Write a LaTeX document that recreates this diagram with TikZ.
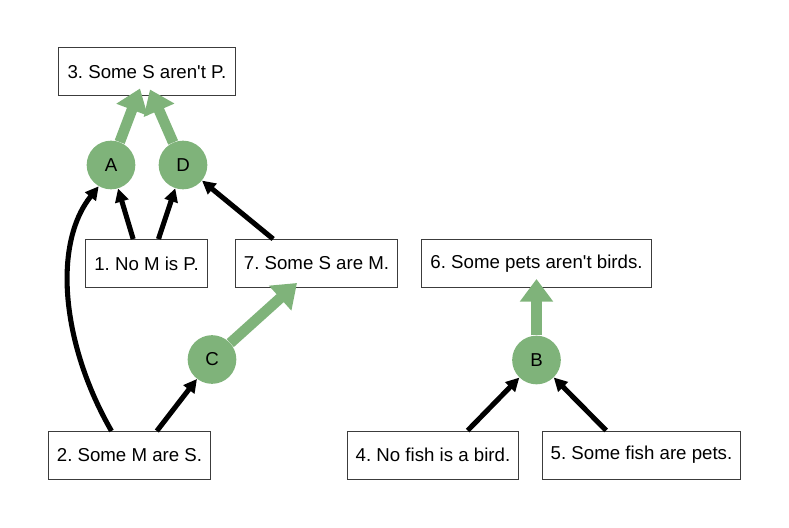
\documentclass[tikz,border=0pt]{standalone}
\usepackage{fontspec}
\setmainfont{Liberation Sans}
\usetikzlibrary{arrows.meta}
\definecolor{leaf}{HTML}{7FB37A}
\definecolor{edge}{HTML}{3C3C3C}
\frenchspacing
\tikzset{
  font=\fontsize{14}{17}\selectfont,
  claim/.style={draw=edge, line width=0.75pt, rectangle, minimum height=36pt, inner xsep=6.5pt},
  rule/.style={circle, fill=leaf, minimum size=36.5pt, inner sep=0pt},
  support/.style={draw=black, line width=3.8pt, -{Triangle[length=10pt,width=10pt]}},
  yields/.style={draw=leaf, line width=8pt, -{Triangle[length=17pt,width=24pt]}},
}

\begin{document}
\begin{tikzpicture}[x=0.75pt, y=-0.75pt]
\useasboundingbox (0,0) rectangle (789,528);

% ---------------- statements ----------------
\node[claim] (p3) at (147,72)    {3. Some S aren\textquotesingle t P.};
\node[claim] (p1) at (146.5,263.5) {1. No M is P.};
\node[claim] (p7) at (316.5,263.5) {7. Some S are M.};
\node[claim] (p6) at (536.5,263.5) {6. Some pets aren\textquotesingle t birds.};
\node[claim] (p2) at (129.5,455.5) {2. Some M are S.};
\node[claim] (p4) at (433,455)   {4. No fish is a bird.};
\node[claim] (p5) at (641.5,455) {5. Some fish are pets.};

% ---------------- inference steps ----------------
\node[rule] (A) at (111,165) {A};
\node[rule] (D) at (183,165) {D};
\node[rule] (C) at (212,359.5) {C};
\node[rule] (B) at (536.5,360) {B};

% premises into the steps
\draw[support] ([xshift=-10]p1.north) -- (A);
\draw[support] ([xshift=9]p1.north) -- (D);
\draw[support] ([xshift=-32.5]p7.north) -- (D);
\draw[support] ([xshift=-13.5]p2.north) .. controls (62,345) and (52,245) .. (A.240);
\draw[support] ([xshift=20.5]p2.north) -- (C);
\draw[support] ([xshift=26]p4.north) -- (B);
\draw[support] ([xshift=-26.5]p5.north) -- (B);

% steps into their conclusions
\draw[yields] (A) -- ([shift={(-7,-8)}]p3.south);
\draw[yields] (D) -- ([shift={(3,-7)}]p3.south);
\draw[yields] (C) -- ([shift={(-19.5,-5)}]p7.south);
\draw[yields] (B) -- ([shift={(0,-9)}]p6.south);

\end{tikzpicture}
\end{document}
